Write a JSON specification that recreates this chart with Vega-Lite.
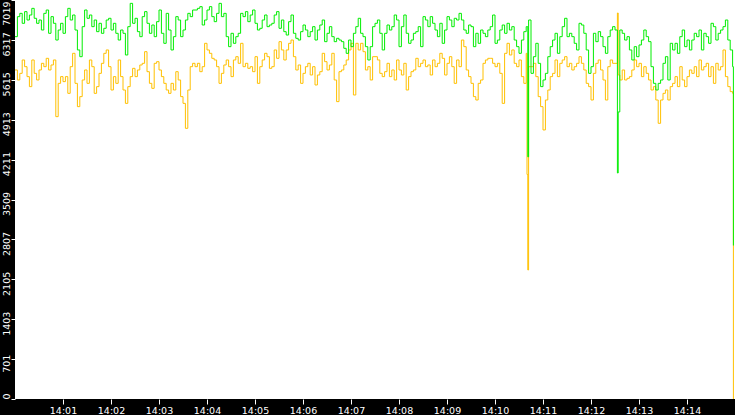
{
  "$schema": "https://vega.github.io/schema/vega-lite/v6.json",
  "width": 720,
  "height": 399,
  "autosize": "none",
  "padding": {"left": 15, "top": 0, "right": 0, "bottom": 16},
  "background": "black",
  "view": {"fill": "white", "stroke": null},
  "config": {
    "axis": {"labelFont": "DejaVu Sans", "labelColor": "white", "tickColor": "white", "tickWidth": 1, "domain": false, "grid": false, "title": null}
  },
  "data": {"values": [
    {"t":0,"hi":6374,"lo":5788},{"t":3,"hi":6726,"lo":5612},{"t":6,"hi":6784,"lo":5729},{"t":9,"hi":6609,"lo":5964},{"t":12,"hi":6814,"lo":5846},
    {"t":15,"hi":6667,"lo":5671},{"t":18,"hi":6755,"lo":5495},{"t":21,"hi":6872,"lo":5964},{"t":24,"hi":6697,"lo":5729},{"t":27,"hi":6609,"lo":5612},
    {"t":30,"hi":6667,"lo":5788},{"t":33,"hi":6491,"lo":5905},{"t":36,"hi":6784,"lo":5846},{"t":39,"hi":6843,"lo":5993},{"t":42,"hi":6433,"lo":5788},
    {"t":45,"hi":6726,"lo":5876},{"t":48,"hi":6609,"lo":5964},{"t":51,"hi":6315,"lo":4967},{"t":54,"hi":6491,"lo":5553},{"t":57,"hi":6609,"lo":5671},
    {"t":60,"hi":6433,"lo":5583},{"t":63,"hi":6726,"lo":5671},{"t":66,"hi":6872,"lo":5377},{"t":69,"hi":6667,"lo":5846},{"t":72,"hi":6755,"lo":6081},
    {"t":75,"hi":6491,"lo":5553},{"t":78,"hi":6140,"lo":5143},{"t":81,"hi":6022,"lo":5319},{"t":84,"hi":6550,"lo":5612},{"t":87,"hi":6843,"lo":5788},
    {"t":90,"hi":6697,"lo":5553},{"t":93,"hi":6755,"lo":5964},{"t":96,"hi":6550,"lo":5846},{"t":99,"hi":6667,"lo":5377},{"t":102,"hi":6462,"lo":5495},
    {"t":105,"hi":6609,"lo":5729},{"t":108,"hi":6433,"lo":5905},{"t":111,"hi":6521,"lo":6081},{"t":114,"hi":6667,"lo":6140},{"t":117,"hi":6697,"lo":5846},
    {"t":120,"hi":6491,"lo":5436},{"t":123,"hi":6609,"lo":5671},{"t":126,"hi":6433,"lo":5553},{"t":129,"hi":6315,"lo":5964},{"t":132,"hi":6491,"lo":5671},
    {"t":135,"hi":6433,"lo":5436},{"t":138,"hi":6052,"lo":5201},{"t":141,"hi":6550,"lo":5495},{"t":144,"hi":6960,"lo":5671},{"t":147,"hi":6609,"lo":5817},
    {"t":150,"hi":6697,"lo":5671},{"t":153,"hi":6462,"lo":5788},{"t":156,"hi":6374,"lo":5876},{"t":159,"hi":6726,"lo":5905},{"t":162,"hi":6814,"lo":6110},
    {"t":165,"hi":6609,"lo":5758},{"t":168,"hi":6433,"lo":5553},{"t":171,"hi":6579,"lo":5465},{"t":174,"hi":6374,"lo":5905},{"t":177,"hi":6638,"lo":5934},
    {"t":180,"hi":6843,"lo":5788},{"t":183,"hi":6433,"lo":5671},{"t":186,"hi":6257,"lo":5553},{"t":189,"hi":6784,"lo":5436},{"t":192,"hi":6491,"lo":5377},
    {"t":195,"hi":6140,"lo":5553},{"t":198,"hi":6374,"lo":5436},{"t":201,"hi":6726,"lo":5758},{"t":204,"hi":6667,"lo":5612},{"t":207,"hi":6374,"lo":5319},
    {"t":210,"hi":6491,"lo":5201},{"t":213,"hi":6667,"lo":4762},{"t":216,"hi":6784,"lo":5436},{"t":219,"hi":6726,"lo":5846},{"t":222,"hi":6843,"lo":5905},
    {"t":225,"hi":6843,"lo":5846},{"t":228,"hi":6872,"lo":5905},{"t":231,"hi":6902,"lo":5758},{"t":234,"hi":6579,"lo":5846},{"t":237,"hi":6667,"lo":6257},
    {"t":240,"hi":6843,"lo":6140},{"t":243,"hi":6902,"lo":6081},{"t":246,"hi":6726,"lo":5993},{"t":249,"hi":6638,"lo":5964},{"t":252,"hi":6784,"lo":5846},
    {"t":255,"hi":6960,"lo":5553},{"t":258,"hi":6726,"lo":5729},{"t":261,"hi":6784,"lo":5876},{"t":264,"hi":6374,"lo":5964},{"t":267,"hi":6198,"lo":5846},
    {"t":270,"hi":6433,"lo":5671},{"t":273,"hi":6257,"lo":5964},{"t":276,"hi":6374,"lo":6022},{"t":279,"hi":6433,"lo":5905},{"t":282,"hi":6784,"lo":6257},
    {"t":285,"hi":6726,"lo":5846},{"t":288,"hi":6814,"lo":5905},{"t":291,"hi":6638,"lo":5817},{"t":294,"hi":6755,"lo":5846},{"t":297,"hi":6843,"lo":5758},
    {"t":300,"hi":6609,"lo":6022},{"t":303,"hi":6491,"lo":5553},{"t":306,"hi":6521,"lo":5846},{"t":309,"hi":6667,"lo":5964},{"t":312,"hi":6755,"lo":6081},
    {"t":315,"hi":6550,"lo":6022},{"t":318,"hi":6579,"lo":5817},{"t":321,"hi":6609,"lo":5846},{"t":324,"hi":6755,"lo":6140},{"t":327,"hi":6814,"lo":5993},
    {"t":330,"hi":6521,"lo":6286},{"t":333,"hi":6667,"lo":6140},{"t":336,"hi":6462,"lo":5964},{"t":339,"hi":6403,"lo":6140},{"t":342,"hi":6638,"lo":6257},
    {"t":345,"hi":6755,"lo":6315},{"t":348,"hi":6433,"lo":6022},{"t":351,"hi":6345,"lo":5788},{"t":354,"hi":6315,"lo":5876},{"t":357,"hi":6462,"lo":5553},
    {"t":360,"hi":6579,"lo":5729},{"t":363,"hi":6491,"lo":5846},{"t":366,"hi":6374,"lo":5905},{"t":369,"hi":6462,"lo":5700},{"t":372,"hi":6550,"lo":5846},
    {"t":375,"hi":6315,"lo":5524},{"t":378,"hi":6491,"lo":5700},{"t":381,"hi":6579,"lo":5758},{"t":384,"hi":6667,"lo":6081},{"t":387,"hi":6286,"lo":5934},
    {"t":390,"hi":6433,"lo":5788},{"t":393,"hi":6550,"lo":5876},{"t":396,"hi":6374,"lo":6081},{"t":399,"hi":6286,"lo":5612},{"t":402,"hi":6345,"lo":5231},
    {"t":405,"hi":6315,"lo":5758},{"t":408,"hi":6286,"lo":5788},{"t":411,"hi":6169,"lo":5876},{"t":414,"hi":6081,"lo":5964},{"t":417,"hi":6315,"lo":6140},
    {"t":420,"hi":6198,"lo":6257},{"t":423,"hi":6433,"lo":5348},{"t":426,"hi":6550,"lo":6257},{"t":429,"hi":6697,"lo":6140},{"t":432,"hi":6433,"lo":6257},
    {"t":435,"hi":6374,"lo":6110},{"t":438,"hi":6198,"lo":5788},{"t":441,"hi":5964,"lo":5846},{"t":444,"hi":6198,"lo":5612},{"t":447,"hi":6550,"lo":6022},
    {"t":450,"hi":6609,"lo":6022},{"t":453,"hi":6667,"lo":5964},{"t":456,"hi":6433,"lo":5729},{"t":459,"hi":6140,"lo":5671},{"t":462,"hi":6433,"lo":5758},
    {"t":465,"hi":6579,"lo":5905},{"t":468,"hi":6491,"lo":5671},{"t":471,"hi":6550,"lo":5788},{"t":474,"hi":6755,"lo":5612},{"t":477,"hi":6667,"lo":5964},
    {"t":480,"hi":6198,"lo":5788},{"t":483,"hi":6550,"lo":5700},{"t":486,"hi":6755,"lo":5905},{"t":489,"hi":6433,"lo":5436},{"t":492,"hi":6257,"lo":5671},
    {"t":495,"hi":6315,"lo":5758},{"t":498,"hi":6433,"lo":5788},{"t":501,"hi":6462,"lo":5993},{"t":504,"hi":6550,"lo":5846},{"t":507,"hi":6198,"lo":5905},
    {"t":510,"hi":6726,"lo":5964},{"t":513,"hi":6667,"lo":5846},{"t":516,"hi":6550,"lo":5876},{"t":519,"hi":6726,"lo":5700},{"t":522,"hi":6609,"lo":5964},
    {"t":525,"hi":6491,"lo":5846},{"t":528,"hi":6374,"lo":5905},{"t":531,"hi":6609,"lo":6081},{"t":534,"hi":6257,"lo":5993},{"t":537,"hi":6491,"lo":5700},
    {"t":540,"hi":6726,"lo":5905},{"t":543,"hi":6667,"lo":6022},{"t":546,"hi":6550,"lo":5846},{"t":549,"hi":6697,"lo":5553},{"t":552,"hi":6667,"lo":5964},
    {"t":555,"hi":6784,"lo":5846},{"t":558,"hi":6667,"lo":6315},{"t":561,"hi":6491,"lo":6198},{"t":564,"hi":6433,"lo":5788},{"t":567,"hi":6579,"lo":5671},
    {"t":570,"hi":6550,"lo":5553},{"t":573,"hi":6198,"lo":5319},{"t":576,"hi":6433,"lo":5260},{"t":579,"hi":6257,"lo":5553},{"t":582,"hi":6491,"lo":5612},
    {"t":585,"hi":6433,"lo":5905},{"t":588,"hi":6374,"lo":5964},{"t":591,"hi":6491,"lo":5993},{"t":594,"hi":6550,"lo":5993},{"t":597,"hi":6755,"lo":5905},
    {"t":600,"hi":6257,"lo":5846},{"t":603,"hi":6315,"lo":5905},{"t":606,"hi":6491,"lo":5729},{"t":609,"hi":6579,"lo":5201},{"t":612,"hi":6433,"lo":6081},
    {"t":615,"hi":6609,"lo":6257},{"t":618,"hi":6491,"lo":6052},{"t":621,"hi":6550,"lo":6140},{"t":624,"hi":6315,"lo":5905},{"t":627,"hi":6198,"lo":5846},
    {"t":630,"hi":6081,"lo":5964},{"t":633,"hi":6315,"lo":5671},{"t":636,"hi":6462,"lo":5553},{"t":639,"hi":6550,"lo":6081},{"t":640,"hi":6550,"lo":3950},
    {"t":641,"hi":4260,"lo":2270},{"t":642,"hi":6667,"lo":5846},{"t":645,"hi":5729,"lo":5846},{"t":648,"hi":6022,"lo":5905},{"t":651,"hi":6257,"lo":5671},
    {"t":654,"hi":5905,"lo":5319},{"t":657,"hi":5495,"lo":5143},{"t":660,"hi":5612,"lo":4733},{"t":663,"hi":5729,"lo":5260},{"t":666,"hi":6022,"lo":5436},
    {"t":669,"hi":6198,"lo":5671},{"t":672,"hi":6315,"lo":5729},
    {"t":675,"hi":6433,"lo":5964},{"t":678,"hi":6081,"lo":5671},{"t":681,"hi":6374,"lo":5905},{"t":684,"hi":6550,"lo":5964},{"t":687,"hi":6697,"lo":6022},
    {"t":690,"hi":6374,"lo":5846},{"t":693,"hi":6433,"lo":5905},{"t":696,"hi":6374,"lo":5788},{"t":699,"hi":6257,"lo":5846},{"t":702,"hi":6140,"lo":5905},
    {"t":705,"hi":6609,"lo":6022},{"t":708,"hi":6579,"lo":5905},{"t":711,"hi":6433,"lo":5788},{"t":714,"hi":6140,"lo":5553},{"t":717,"hi":5729,"lo":5495},
    {"t":720,"hi":5846,"lo":5260},{"t":723,"hi":6433,"lo":5729},{"t":726,"hi":6286,"lo":5905},{"t":729,"hi":6462,"lo":5964},{"t":732,"hi":6374,"lo":5788},
    {"t":735,"hi":6198,"lo":5612},{"t":738,"hi":6081,"lo":5260},{"t":741,"hi":6374,"lo":5846},{"t":744,"hi":6491,"lo":5964},{"t":747,"hi":6550,"lo":5905},
    {"t":750,"hi":6491,"lo":5905},{"t":753,"hi":3976,"lo":6790},{"t":754,"hi":5050,"lo":5700},{"t":756,"hi":6491,"lo":5612},{"t":759,"hi":6433,"lo":5788},
    {"t":762,"hi":6315,"lo":5612},{"t":765,"hi":6374,"lo":5641},{"t":768,"hi":6140,"lo":5671},{"t":771,"hi":5964,"lo":5788},{"t":774,"hi":6198,"lo":5964},
    {"t":777,"hi":6022,"lo":5846},{"t":780,"hi":6228,"lo":5905},{"t":783,"hi":6315,"lo":5671},{"t":786,"hi":6491,"lo":5846},{"t":789,"hi":6374,"lo":5729},
    {"t":792,"hi":6286,"lo":5612},{"t":795,"hi":5846,"lo":5436},{"t":798,"hi":5553,"lo":5495},{"t":801,"hi":5436,"lo":5260},{"t":804,"hi":5553,"lo":4850},
    {"t":807,"hi":5612,"lo":5260},{"t":810,"hi":5905,"lo":5377},{"t":813,"hi":6022,"lo":5436},{"t":816,"hi":5612,"lo":5260},{"t":819,"hi":6257,"lo":5495},
    {"t":822,"hi":6140,"lo":5553},{"t":825,"hi":6257,"lo":5671},{"t":828,"hi":6081,"lo":5495},{"t":831,"hi":6374,"lo":5846},{"t":834,"hi":6491,"lo":5612},
    {"t":837,"hi":6198,"lo":5495},{"t":840,"hi":6315,"lo":5671},{"t":843,"hi":6140,"lo":5788},{"t":846,"hi":6315,"lo":5729},{"t":849,"hi":6433,"lo":5846},
    {"t":852,"hi":6374,"lo":5671},{"t":855,"hi":6491,"lo":5964},{"t":858,"hi":6140,"lo":5788},{"t":861,"hi":6433,"lo":5846},{"t":864,"hi":6374,"lo":5905},
    {"t":867,"hi":6257,"lo":5671},{"t":870,"hi":6609,"lo":5846},{"t":873,"hi":6550,"lo":5553},{"t":876,"hi":6315,"lo":5905},{"t":879,"hi":6433,"lo":5788},
    {"t":882,"hi":6491,"lo":5846},{"t":885,"hi":6550,"lo":6140},{"t":888,"hi":6667,"lo":5671},{"t":891,"hi":6315,"lo":5495},{"t":894,"hi":6140,"lo":5407},
    {"t":897,"hi":5846,"lo":5377},{"t":898,"hi":2700,"lo":0}
  ]},
  "transform": [{"fold": ["lo", "hi"], "as": ["series", "value"]}],
  "encoding": {
    "x": {
      "field": "t", "type": "quantitative",
      "scale": {"domain": [0, 900], "nice": false, "zero": false},
      "axis": {
        "values": [60, 120, 180, 240, 300, 360, 420, 480, 540, 600, 660, 720, 780, 840],
        "labelExpr": "'14:' + (datum.value < 600 ? '0' : '') + (datum.value / 60)",
        "tickSize": 5, "labelPadding": 1, "labelFontSize": 9.5,
        "labelFlush": false, "labelOverlap": false
      }
    },
    "y": {
      "field": "value", "type": "quantitative",
      "scale": {"domain": [0, 7019], "nice": false},
      "axis": {
        "values": [0, 701, 1403, 2105, 2807, 3509, 4211, 4913, 5615, 6317, 7019],
        "format": "d",
        "labelAngle": -90,
        "labelAlign": {"condition": [{"test": "datum.value == 0", "value": "left"}, {"test": "datum.value == 7019", "value": "right"}], "value": "center"},
        "labelBaseline": "alphabetic",
        "labelOffset": {"condition": [{"test": "datum.value == 0", "value": 0}, {"test": "datum.value == 7019", "value": 1}], "value": 4},
        "labelPadding": 2, "tickSize": 4, "labelFontSize": 9.5,
        "labelOverlap": false, "labelBound": false, "labelFlush": false
      }
    }
  },
  "layer": [
    {
      "transform": [{"filter": "datum.series == 'lo'"}],
      "mark": {"type": "line", "interpolate": "step-after", "strokeWidth": 1, "color": "#ffc000"}
    },
    {
      "transform": [{"filter": "datum.series == 'hi'"}],
      "mark": {"type": "line", "interpolate": "step-after", "strokeWidth": 1, "color": "#00ee00"}
    }
  ]
}
